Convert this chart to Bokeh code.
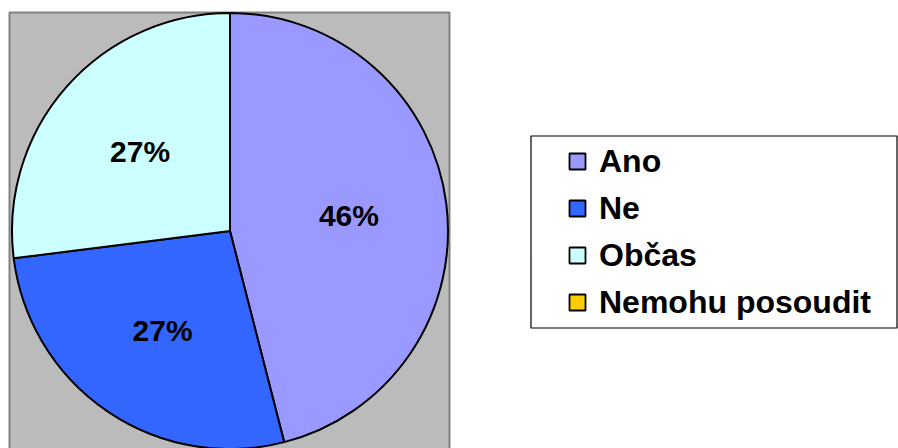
import math
from bokeh.plotting import figure
from bokeh.models import Range1d, BoxAnnotation, Legend, LegendItem, ColumnDataSource
from bokeh.embed import file_html
from bokeh.resources import INLINE
from bokeh.core.properties import value

# ---- data ----
categories = ["Ano", "Ne", "Občas", "Nemohu posoudit"]
values = [46, 27, 27, 0]
colors = ["#9999FF", "#3366FF", "#CCFFFF", "#FFCC00"]

# ---- layout (pixel-like data space) ----
W, H = 898, 448
CX, CY, R = 229.5, 217.5, 218
FONT = "Liberation Sans"

p = figure(width=W, height=H, x_range=Range1d(0, W), y_range=Range1d(0, H),
           output_backend="svg", toolbar_location=None, min_border=0)
p.axis.visible = False
p.grid.visible = False
p.outline_line_color = None
p.background_fill_color = "white"
p.border_fill_color = "white"

# grey plot area
p.add_layout(BoxAnnotation(left=9, right=449, top=436, bottom=-30,
                           fill_color="#BBBBBB", fill_alpha=1,
                           line_color="#808080", line_alpha=1, line_width=2, level="underlay"))

# slices
total = float(sum(values))
starts, ends, mids = [], [], []
cum = 0.0
for v in values:
    s = math.pi / 2 - 2 * math.pi * cum / total
    cum += v
    e = math.pi / 2 - 2 * math.pi * cum / total
    starts.append(s); ends.append(e); mids.append((s + e) / 2)

full = ColumnDataSource(dict(cat=categories, val=values, start=starts, end=ends, color=colors))
nz = [i for i, v in enumerate(values) if v > 0]
pie = ColumnDataSource(dict(start=[starts[i] for i in nz], end=[ends[i] for i in nz],
                            color=[colors[i] for i in nz]))
p.wedge(x=CX, y=CY, radius=R, start_angle="start", end_angle="end", direction="clock",
        fill_color="color", line_color="black", line_width=2, source=pie)

# percentage labels
RL = 0.55 * R
lab = ColumnDataSource(dict(
    x=[CX + RL * math.cos(mids[i]) for i in nz],
    y=[CY + RL * math.sin(mids[i]) for i in nz],
    t=["%d%%" % values[i] for i in nz]))
p.text(x="x", y="y", text="t", source=lab, text_align="center", text_baseline="middle",
       text_font=value(FONT), text_font_style="bold", text_font_size="30px", text_color="black")

# legend (renderer only used for legend swatches)
leg_r = p.wedge(x=CX, y=CY, radius=0, start_angle="start", end_angle="end",
                fill_color="color", line_color="black", line_width=1.8, source=full)
leg_r.visible = False

items = [LegendItem(label=c, renderers=[leg_r], index=i) for i, c in enumerate(categories)]
legend = Legend(items=items, location=(567, 126), padding=0, spacing=7, label_height=40,
                glyph_height=20, glyph_width=20, label_standoff=12, margin=0,
                label_text_font=FONT, label_text_font_style="bold", label_text_font_size="32px",
                label_text_color="black", border_line_color=None, background_fill_alpha=0,
                click_policy="none")
p.add_layout(legend)

# legend frame
p.add_layout(BoxAnnotation(left=530.5, right=896.5, top=312.5, bottom=120.5, fill_alpha=0,
                           line_color="black", line_alpha=1, line_width=1.2, level="overlay"))

open("out.html", "w").write(file_html(p, INLINE))
